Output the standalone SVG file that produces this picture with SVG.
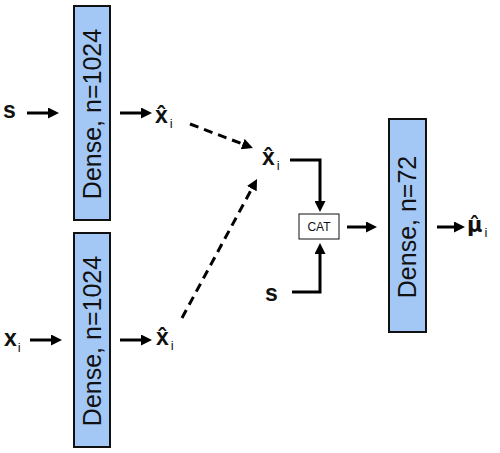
<svg xmlns="http://www.w3.org/2000/svg" width="500" height="453" viewBox="0 0 500 453">
<style>
.box{fill:#a4c8f5;stroke:#111;stroke-width:2}
.dl{font-family:"Liberation Sans",Arial,sans-serif;font-size:25px;fill:#111}
.lb{font-family:"Liberation Sans",Arial,sans-serif;font-size:23px;font-weight:bold;fill:#111}
.sub{font-family:"Liberation Sans",Arial,sans-serif;font-size:13px;font-weight:normal}
.ln{fill:none;stroke:#000;stroke-width:3}
.dash{stroke-dasharray:9 6}
</style>
<defs>
<marker id="ah" viewBox="0 0 11 11" markerWidth="11" markerHeight="11" refX="1" refY="5.5" orient="auto" markerUnits="userSpaceOnUse">
<path d="M0,0 L11,5.5 L0,11 z" fill="#000"/>
</marker>
</defs>
<g id="dense1">
<rect class="box" x="74" y="6" width="36" height="214"/>
<text class="dl" text-anchor="middle" transform="translate(101,114) rotate(-90)">Dense, n=1024</text>
</g>
<g id="dense2">
<rect class="box" x="74" y="233" width="36" height="214"/>
<text class="dl" text-anchor="middle" transform="translate(101,341) rotate(-90)">Dense, n=1024</text>
</g>
<g id="dense3">
<rect class="box" x="389" y="119" width="37" height="213"/>
<text class="dl" text-anchor="middle" transform="translate(416,227) rotate(-90)">Dense, n=72</text>
</g>
<g id="cat">
<rect x="299" y="214" width="40" height="25" fill="#fff" stroke="#111" stroke-width="1"/>
<text x="319" y="231" text-anchor="middle" font-family="Liberation Sans, Arial, sans-serif" font-size="12" fill="#111">CAT</text>
</g>
<g id="s-top"><text class="lb" x="3" y="118">s</text></g>
<g id="x-in"><text class="lb" x="4" y="346">x<tspan class="sub" dx="1" dy="6">i</tspan></text></g>
<g id="xhat-top"><text class="lb" x="155" y="123">x̂<tspan class="sub" dx="2" dy="5">i</tspan></text></g>
<g id="xhat-bot"><text class="lb" x="156" y="345">x̂<tspan class="sub" dx="2" dy="5">i</tspan></text></g>
<g id="xhat-mid"><text class="lb" x="262" y="165">x̂<tspan class="sub" dx="2" dy="5">i</tspan></text></g>
<g id="s-bot"><text class="lb" x="265" y="301">s</text></g>
<g id="mu"><text class="lb" x="467" y="232"><tspan font-family="DejaVu Sans, sans-serif" font-size="21">μ̂</tspan><tspan class="sub" dx="2" dy="5">i</tspan></text></g>
<g id="connectors">
<line class="ln" x1="27" y1="113" x2="49" y2="113" marker-end="url(#ah)"/>
<line class="ln" x1="120" y1="113" x2="142" y2="113" marker-end="url(#ah)"/>
<line class="ln" x1="30" y1="340" x2="52" y2="340" marker-end="url(#ah)"/>
<line class="ln" x1="120" y1="340" x2="142" y2="340" marker-end="url(#ah)"/>
<line class="ln dash" x1="190" y1="124" x2="243.6" y2="144.4" marker-end="url(#ah)"/>
<line class="ln dash" x1="182" y1="318" x2="252.3" y2="187.8" marker-end="url(#ah)"/>
<path class="ln" d="M290,160 H320 V202" marker-end="url(#ah)"/>
<path class="ln" d="M292,292 H320 V253" marker-end="url(#ah)"/>
<line class="ln" x1="347" y1="227" x2="367" y2="227" marker-end="url(#ah)"/>
<line class="ln" x1="437" y1="227" x2="455" y2="227" marker-end="url(#ah)"/>
</g>
</svg>
